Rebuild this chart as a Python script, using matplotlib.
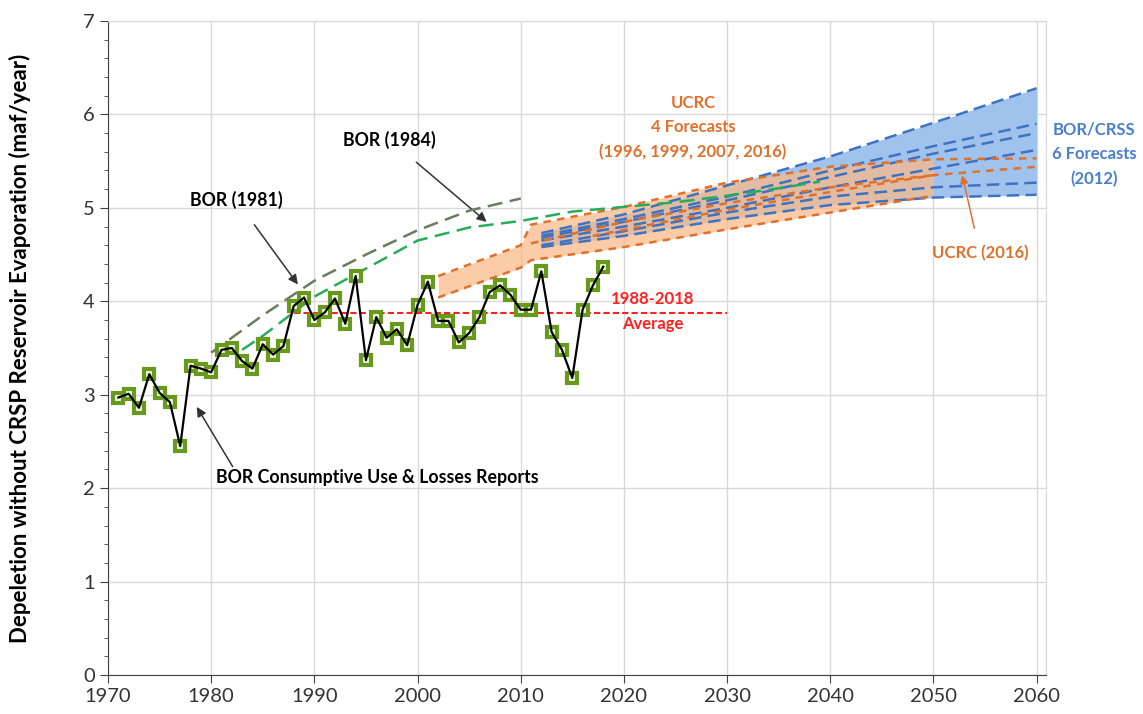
import numpy as np
import matplotlib
matplotlib.use('Agg')
import matplotlib.pyplot as plt
from matplotlib.ticker import MultipleLocator

plt.rcParams['font.family'] = ['Lato', 'DejaVu Sans']

# BOR Consumptive Use & Losses Reports (maf/year)
years = list(range(1971, 2019))
depletion = [2.97, 3.01, 2.86, 3.22, 3.02, 2.92, 2.45, 3.31, 3.28, 3.24,
             3.48, 3.50, 3.36, 3.28, 3.54, 3.43, 3.52, 3.95, 4.04, 3.80,
             3.88, 4.03, 3.76, 4.27, 3.37, 3.83, 3.61, 3.70, 3.53, 3.96,
             4.21, 3.79, 3.79, 3.56, 3.66, 3.83, 4.10, 4.17, 4.07, 3.91,
             3.91, 4.32, 3.67, 3.48, 3.18, 3.91, 4.17, 4.37]
avg_years = [1988, 2030]
avg_value = 3.87

# BOR (1981) and BOR (1984) projections
bor81_years = [1980, 1985, 1990, 1995, 2000, 2005, 2010]
bor81 = [3.45, 3.85, 4.22, 4.50, 4.76, 4.97, 5.10]
bor84_years = [1983, 1985, 1990, 1995, 2000, 2005, 2010, 2015, 2020, 2025, 2030, 2035, 2039]
bor84 = [3.48, 3.63, 4.05, 4.35, 4.65, 4.79, 4.86, 4.96, 5.01, 5.06, 5.13, 5.21, 5.28]

# UCRC forecasts
ucrc_low_years = [2002, 2010, 2011, 2020, 2030, 2040, 2050]
ucrc_low = [4.04, 4.36, 4.44, 4.58, 4.77, 4.95, 5.13]
ucrc_high_years = [2002, 2010, 2011, 2020, 2030, 2040, 2050, 2060]
ucrc_high = [4.27, 4.60, 4.82, 5.01, 5.27, 5.44, 5.52, 5.53]
ucrc_mid_years = [2011, 2020, 2030, 2040, 2050]
ucrc_mid = [4.62, 4.85, 5.05, 5.22, 5.35]
ucrc16_years = [2017, 2030, 2040, 2050, 2060]
ucrc16 = [4.70, 4.98, 5.17, 5.35, 5.44]

# BOR/CRSS 6 forecasts (2012)
crss_years = [2012, 2020, 2030, 2040, 2050, 2060]
crss = [
    [4.73, 4.93, 5.24, 5.55, 5.91, 6.28],
    [4.70, 4.88, 5.12, 5.40, 5.66, 5.90],
    [4.68, 4.85, 5.08, 5.33, 5.58, 5.80],
    [4.65, 4.80, 5.00, 5.22, 5.42, 5.62],
    [4.60, 4.75, 4.95, 5.12, 5.22, 5.27],
    [4.58, 4.70, 4.88, 5.03, 5.11, 5.14],
]

orange = '#e0702a'
blue = '#3f72c0'

fig = plt.figure(figsize=(11.43, 7.14), dpi=100)
ax = fig.add_axes([0.0945, 0.0546, 0.8205, 0.916])

# blue envelope
ax.fill_between(crss_years, crss[-1], crss[0], color='#9fc3ec', lw=0, zorder=1)
# orange envelope
ucrc_grid = np.array(ucrc_low_years)
ax.fill_between(ucrc_grid, ucrc_low, np.interp(ucrc_grid, ucrc_high_years, ucrc_high),
                color='#fbb886', alpha=0.72, lw=0, zorder=2)

for c in crss:
    ax.plot(crss_years, c, color=blue, ls=(0, (5, 2.5)), lw=1.8, zorder=3)

for yy, vv in [(ucrc_low_years, ucrc_low), (ucrc_high_years, ucrc_high),
               (ucrc_mid_years, ucrc_mid), (ucrc16_years, ucrc16)]:
    ax.plot(yy, vv, color=orange, ls=(0, (3, 2.5)), lw=1.8, zorder=4)

ax.plot(bor81_years, bor81, color='#6a7c60', ls=(0, (6, 3)), lw=1.8, zorder=4)
ax.plot(bor84_years, bor84, color='#27ad5a', ls=(0, (6, 3)), lw=1.8, zorder=4)

ax.plot(avg_years, [avg_value, avg_value], color='#ff2020', ls=(0, (3, 1.5)), lw=1.5, zorder=5)

ax.plot(years, depletion, ls='none', marker='s', ms=7.5, mfc='#f2f6e4', mec='#66991c',
        mew=3, zorder=6)
ax.plot(years, depletion, color='black', lw=1.6, zorder=7)

ax.set_xlim(1970, 2060.9)
ax.set_ylim(0, 7)
ax.xaxis.set_major_locator(MultipleLocator(10))
ax.yaxis.set_major_locator(MultipleLocator(1))
ax.yaxis.set_minor_locator(MultipleLocator(0.2))
ax.grid(True, color='#d9d9d9', lw=1)
ax.set_axisbelow(True)
ax.tick_params(axis='both', which='major', direction='out', length=6, labelsize=14.5,
               colors='#404040', labelcolor='#333333')
ax.tick_params(axis='y', which='minor', direction='out', length=3, color='#404040')
for s in ['top', 'right']:
    ax.spines[s].set_color('#d9d9d9')
for s in ['left', 'bottom']:
    ax.spines[s].set_color('#404040')
ax.set_ylabel('Depeletion without CRSP Reservoir Evaporation (maf/year)',
              fontsize=16, fontweight='bold')
ax.yaxis.set_label_coords(-0.082, 0.5)

bold = dict(fontsize=12.8, fontweight='bold', ha='center', va='center')
cbold = dict(fontsize=12, fontweight='bold', ha='center', va='center')
arr = dict(arrowstyle='-|>', color='#333333', lw=1.1, mutation_scale=14)

ax.annotate('BOR (1981)', xy=(1988.4, 4.18), xytext=(1982.4, 5.09),
            arrowprops=dict(arr, shrinkA=12, shrinkB=0), **bold)
ax.annotate('BOR (1984)', xy=(2006.7, 4.85), xytext=(1997.3, 5.73),
            arrowprops=dict(arr, shrinkA=12, shrinkB=0), **bold)
ax.annotate('BOR Consumptive Use & Losses Reports', xy=(1978.6, 2.87),
            xytext=(1996.1, 2.11),
            arrowprops=dict(arr, shrinkA=0, shrinkB=0, relpos=(0.06, 0.9)), **bold)
ax.annotate('UCRC (2016)', xy=(2052.8, 5.35), xytext=(2054.5, 4.52), color=orange,
            arrowprops=dict(arrowstyle='-|>', color=orange, lw=1.1, mutation_scale=12,
                            shrinkA=10, shrinkB=0), **cbold)
ax.text(2026.7, 5.86, 'UCRC\n4 Forecasts\n(1996, 1999, 2007, 2016)', color=orange,
        linespacing=1.65, **cbold)
ax.text(2065.6, 5.57, 'BOR/CRSS\n6 Forecasts\n(2012)', color='#4a7fc9',
        linespacing=1.65, clip_on=False, **cbold)
ax.text(2022.8, 3.89, '1988-2018\nAverage', color='#ff2020', linespacing=1.65, **cbold)

fig.savefig('out.png', dpi=100)
